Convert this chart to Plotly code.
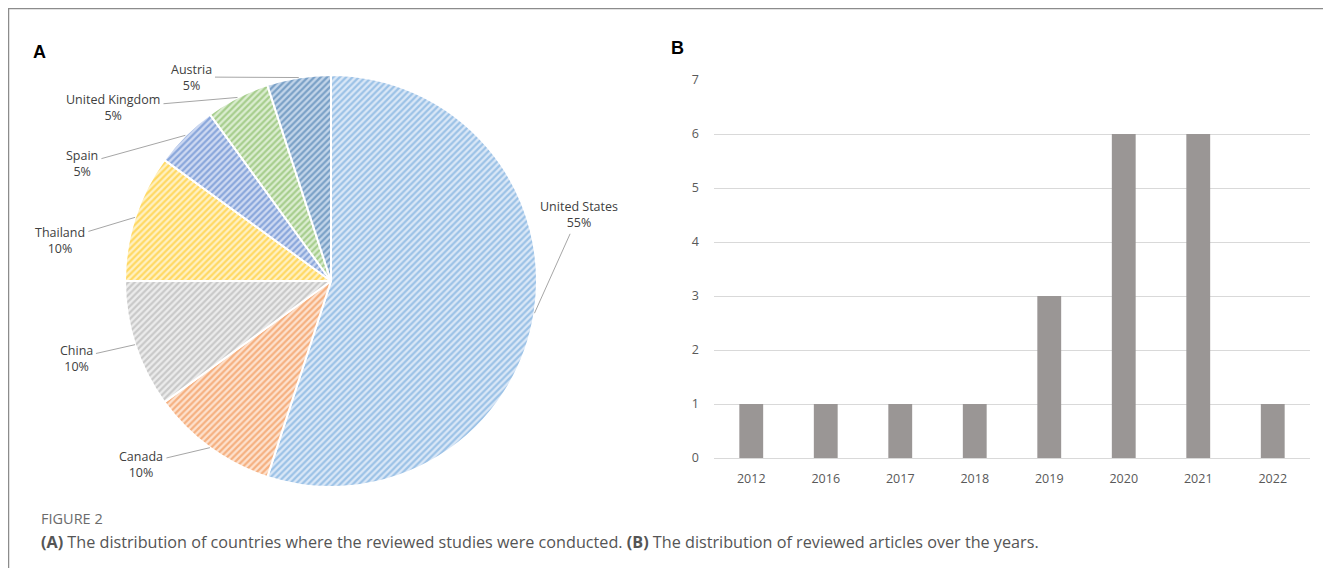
import numpy as np
import plotly.graph_objects as go

# ---------------- data ----------------
countries = ["United States", "Canada", "China", "Thailand", "Spain", "United Kingdom", "Austria"]
country_studies = [11, 2, 2, 2, 1, 1, 1]

years = ["2012", "2016", "2017", "2018", "2019", "2020", "2021", "2022"]
articles = [1, 1, 1, 1, 3, 6, 6, 1]

y_ticks = [0, 1, 2, 3, 4, 5, 6, 7]

# ---------------- styles ----------------
PAGE_MARGIN = 8                      # default body margin of the page
W, H = 1331 - 2 * PAGE_MARGIN, 576 - 2 * PAGE_MARGIN
fg_colors = ["#5b9bd5", "#ed7d31", "#a5a5a5", "#ffc000", "#4472c4", "#70ad47", "#2f6aa3"]
bg_colors = ["#dbe8f7", "#fde2cf", "#ececec", "#fff1c4", "#cfdaf2", "#dcedd2", "#c4d6ea"]

# pie geometry in (screen) pixels
pie_cx, pie_cy, pie_r = 331, 281, 206
# label centres in screen pixels (layout only)
label_pos = {
    "United States": (579, 214),
    "Canada": (141, 464),
    "China": (76, 358),
    "Thailand": (60, 240),
    "Spain": (82, 164),
    "United Kingdom": (113, 108),
    "Austria": (191, 77),
}

def px_x(p):
    return (p - PAGE_MARGIN) / W

def px_y(p):
    return 1 - (p - PAGE_MARGIN) / H

fig = go.Figure()

fig.add_trace(go.Pie(
    labels=countries,
    values=country_studies,
    sort=False,
    direction="clockwise",
    rotation=0,
    textinfo="none",
    hoverinfo="label+percent",
    marker=dict(
        colors=bg_colors,
        line=dict(color="white", width=2),
        pattern=dict(shape="/", fgcolor=fg_colors, bgcolor=bg_colors,
                     size=4.5, solidity=0.5, fillmode="overlay"),
    ),
    domain=dict(x=[px_x(pie_cx - pie_r), px_x(pie_cx + pie_r)],
                y=[px_y(pie_cy + pie_r), px_y(pie_cy - pie_r)]),
    showlegend=False,
))

fig.add_trace(go.Bar(
    x=years, y=articles,
    marker=dict(color="#9a9695", line=dict(width=0)),
    xaxis="x", yaxis="y",
    showlegend=False,
))

# pie labels with leader lines computed from data
total = float(sum(country_studies))
cum = 0.0
annotations = []
for name, v in zip(countries, country_studies):
    mid = (cum + v / 2.0) / total * 2 * np.pi
    cum += v
    ex = pie_cx + pie_r * np.sin(mid)
    ey = pie_cy - pie_r * np.cos(mid)
    lx, ly = label_pos[name]
    pct = round(v / total * 100)
    annotations.append(dict(
        x=px_x(ex), y=px_y(ey), xref="paper", yref="paper",
        ax=lx - ex, ay=ly - ey, axref="pixel", ayref="pixel",
        text=f"{name}<br>{pct}%", showarrow=True, arrowhead=0,
        arrowwidth=1, arrowcolor="#a6a6a6", standoff=0, startstandoff=2,
        font=dict(family="Open Sans", size=12.5, color="#404040"),
        align="center",
    ))

annotations += [
    dict(x=px_x(31), y=px_y(52), xref="paper", yref="paper", text="<b>A</b>",
         showarrow=False, xanchor="left", yanchor="middle",
         font=dict(family="Liberation Sans", size=18, color="black")),
    dict(x=px_x(669), y=px_y(48), xref="paper", yref="paper", text="<b>B</b>",
         showarrow=False, xanchor="left", yanchor="middle",
         font=dict(family="Liberation Sans", size=18, color="black")),
    dict(x=px_x(39), y=px_y(518), xref="paper", yref="paper", text="FIGURE 2",
         showarrow=False, xanchor="left", yanchor="middle",
         font=dict(family="Open Sans", size=14.5, color="#6b6b6b")),
    dict(x=px_x(39), y=px_y(542), xref="paper", yref="paper",
         text="<b>(A)</b> The distribution of countries where the reviewed studies were conducted. "
              "<b>(B)</b> The distribution of reviewed articles over the years.",
         showarrow=False, xanchor="left", yanchor="middle",
         font=dict(family="Open Sans", size=16.2, color="#555555")),
]

fig.update_layout(
    template="none",
    width=W, height=H, autosize=False,
    margin=dict(l=0, r=0, t=0, b=0, pad=0, autoexpand=False),
    paper_bgcolor="white", plot_bgcolor="white",
    bargap=0.68,
    annotations=annotations,
    shapes=[dict(type="rect", xref="paper", yref="paper",
                 x0=px_x(8), x1=px_x(1345), y0=px_y(600), y1=px_y(8),
                 line=dict(color="#8c8c8c", width=2.5), fillcolor="rgba(0,0,0,0)", layer="below")],
    xaxis=dict(domain=[px_x(714), px_x(1310)], anchor="y", automargin=False,
               type="category", showgrid=False, showline=False, zeroline=False,
               ticks="", ticklabelstandoff=11,
               tickfont=dict(family="Open Sans", size=12.5, color="#595959")),
    yaxis=dict(domain=[px_y(458), px_y(80)], anchor="x", automargin=False,
               range=[0, 7], tickvals=y_ticks, showgrid=True,
               gridcolor="#d9d9d9", gridwidth=1, zeroline=True, zerolinecolor="#d9d9d9",
               zerolinewidth=1, showline=False, ticks="", ticklabelstandoff=14,
               tickfont=dict(family="Open Sans", size=12.5, color="#595959")),
)

fig.write_html("out.html", config={"displayModeBar": False})
